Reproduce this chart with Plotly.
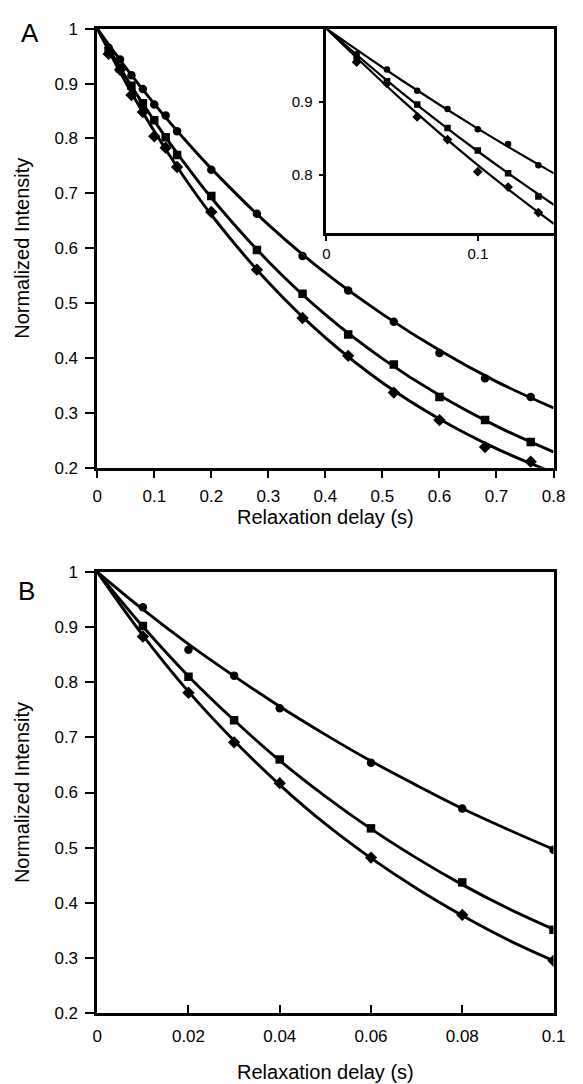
import plotly.graph_objects as go

# ---------------- data ----------------
# Panel A: relaxation delay (s)
a_x = [0.02, 0.04, 0.06, 0.08, 0.10, 0.12, 0.14, 0.20, 0.28, 0.36, 0.44, 0.52, 0.60, 0.68, 0.76]
a_circle = [0.965, 0.944, 0.915, 0.890, 0.862, 0.842, 0.813, 0.743, 0.663, 0.586, 0.523, 0.466, 0.409, 0.363, 0.329]
a_square = [0.959, 0.928, 0.896, 0.864, 0.833, 0.802, 0.770, 0.695, 0.597, 0.517, 0.443, 0.388, 0.329, 0.287, 0.247]
a_diamond = [0.954, 0.925, 0.879, 0.848, 0.804, 0.783, 0.748, 0.666, 0.561, 0.473, 0.404, 0.337, 0.287, 0.238, 0.211]

# Panel A fitted curves
a_curve_x = [0, 0.05, 0.10, 0.15, 0.20, 0.30, 0.40, 0.50, 0.60, 0.70, 0.80]
a_curve_circle = [1.0, 0.929, 0.863, 0.802, 0.745, 0.643, 0.555, 0.480, 0.414, 0.357, 0.309]
a_curve_square = [1.0, 0.912, 0.832, 0.759, 0.692, 0.576, 0.479, 0.399, 0.332, 0.276, 0.229]
a_curve_diamond = [1.0, 0.902, 0.813, 0.733, 0.661, 0.538, 0.437, 0.355, 0.289, 0.235, 0.191]

# Panel B
b_x = [0.01, 0.02, 0.03, 0.04, 0.06, 0.08, 0.10]
b_circle = [0.936, 0.859, 0.812, 0.753, 0.654, 0.571, 0.496]
b_square = [0.902, 0.810, 0.731, 0.660, 0.535, 0.437, 0.351]
b_diamond = [0.883, 0.781, 0.691, 0.617, 0.482, 0.378, 0.295]

b_curve_x = [0, 0.01, 0.02, 0.03, 0.04, 0.05, 0.06, 0.07, 0.08, 0.09, 0.10]
b_curve_circle = [1.0, 0.932, 0.869, 0.811, 0.756, 0.705, 0.657, 0.613, 0.571, 0.533, 0.497]
b_curve_square = [1.0, 0.901, 0.811, 0.731, 0.658, 0.593, 0.534, 0.481, 0.433, 0.390, 0.352]
b_curve_diamond = [1.0, 0.885, 0.783, 0.694, 0.614, 0.543, 0.481, 0.426, 0.377, 0.333, 0.295]

# ticks
y_tickvals = [0.2, 0.3, 0.4, 0.5, 0.6, 0.7, 0.8, 0.9, 1.0]
y_ticktext = ["0.2", "0.3", "0.4", "0.5", "0.6", "0.7", "0.8", "0.9", "1"]
a_x_tickvals = [0, 0.1, 0.2, 0.3, 0.4, 0.5, 0.6, 0.7, 0.8]
a_x_ticktext = ["0", "0.1", "0.2", "0.3", "0.4", "0.5", "0.6", "0.7", "0.8"]
b_x_tickvals = [0, 0.02, 0.04, 0.06, 0.08, 0.10]
b_x_ticktext = ["0", "0.02", "0.04", "0.06", "0.08", "0.1"]
inset_x_tickvals = [0, 0.1]
inset_x_ticktext = ["0", "0.1"]
inset_y_tickvals = [0.8, 0.9]
inset_y_ticktext = ["0.8", "0.9"]

# ---------------- figure ----------------
W, H = 583, 1084
FONT = "Liberation Sans, Arial, Helvetica, sans-serif"
TICK = 17
TITLE = 20

def px_x(p):
    return p / W

def px_y(p):
    return 1 - p / H

fig = go.Figure()

symbols = {"circle": "circle", "square": "square", "diamond": "diamond"}

def add_set(xs, series, cx, curves, xa, ya, msize, lw):
    for (name, vals), cvals in zip(series, curves):
        fig.add_trace(go.Scatter(x=cx, y=cvals, mode="lines", xaxis=xa, yaxis=ya,
                                 line=dict(color="black", width=lw, shape="spline"),
                                 showlegend=False, hoverinfo="skip"))
        sz = msize + (1 if name == "diamond" else 0)
        fig.add_trace(go.Scatter(x=xs, y=vals, mode="markers", xaxis=xa, yaxis=ya,
                                 marker=dict(symbol=symbols[name], size=sz, color="black"),
                                 showlegend=False, name=name))

a_series = [("circle", a_circle), ("square", a_square), ("diamond", a_diamond)]
a_curves = [a_curve_circle, a_curve_square, a_curve_diamond]
add_set(a_x, a_series, a_curve_x, a_curves, "x", "y", 8.5, 2.9)

b_series = [("circle", b_circle), ("square", b_square), ("diamond", b_diamond)]
b_curves = [b_curve_circle, b_curve_square, b_curve_diamond]
add_set(b_x, b_series, b_curve_x, b_curves, "x2", "y2", 8.5, 2.9)

# inset: first seven points of panel A
n_in = 7
inset_series = [(n, v[:n_in]) for n, v in a_series]
add_set(a_x[:n_in], inset_series, a_curve_x, a_curves, "x3", "y3", 6.5, 2.2)

axis_common = dict(showline=True, linecolor="black", linewidth=2.5, mirror=True,
                   ticks="outside", tickcolor="black", tickwidth=2, showgrid=False,
                   zeroline=False, tickfont=dict(family=FONT, size=TICK, color="black"))

xdom = [px_x(95), px_x(565)]
fig.update_layout(
    width=W, height=H,
    margin=dict(l=0, r=0, t=0, b=0),
    paper_bgcolor="white", plot_bgcolor="white",
    font=dict(family=FONT, color="black"),
    xaxis=dict(axis_common, domain=xdom, range=[0, 0.8], anchor="y",
               tickvals=a_x_tickvals, ticktext=a_x_ticktext, ticklen=7, ticklabelstandoff=4,
               title=dict(text="Relaxation delay (s)", font=dict(family=FONT, size=TITLE), standoff=5)),
    yaxis=dict(axis_common, domain=[px_y(467), px_y(20)], range=[0.2, 1.0], anchor="x",
               tickvals=y_tickvals, ticktext=y_ticktext, ticklen=9, ticklabelstandoff=4,
               title=dict(text="Normalized Intensity", font=dict(family=FONT, size=TITLE), standoff=20)),
    xaxis2=dict(axis_common, domain=xdom, range=[0, 0.1], anchor="y2",
                tickvals=b_x_tickvals, ticktext=b_x_ticktext, ticks="inside", ticklen=8,
                ticklabelstandoff=6,
                title=dict(text="Relaxation delay (s)", font=dict(family=FONT, size=TITLE), standoff=20)),
    yaxis2=dict(axis_common, domain=[px_y(1022), px_y(573)], range=[0.2, 1.0], anchor="x2",
                tickvals=y_tickvals, ticktext=y_ticktext, ticklen=9, ticklabelstandoff=4,
                title=dict(text="Normalized Intensity", font=dict(family=FONT, size=TITLE), standoff=20)),
    xaxis3=dict(axis_common, domain=[px_x(331), px_x(565)], range=[0, 0.15], anchor="y3",
                tickvals=inset_x_tickvals, ticktext=inset_x_ticktext, ticklen=5,
                tickfont=dict(family=FONT, size=15, color="black")),
    yaxis3=dict(axis_common, domain=[px_y(228), px_y(20)], range=[0.72, 1.0], anchor="x3",
                tickvals=inset_y_tickvals, ticktext=inset_y_ticktext, ticklen=5, ticklabelstandoff=3,
                tickfont=dict(family=FONT, size=15, color="black")),
    annotations=[
        dict(text="A", x=px_x(26), y=px_y(24), xref="paper", yref="paper",
             xanchor="center", yanchor="middle",
             showarrow=False, font=dict(family=FONT, size=26, color="black")),
        dict(text="B", x=px_x(22), y=px_y(592), xref="paper", yref="paper",
             xanchor="center", yanchor="middle",
             showarrow=False, font=dict(family=FONT, size=26, color="black")),
    ],
)

fig.write_html("out.html", config={"displayModeBar": False},
               post_script="document.body.style.margin='0';")
